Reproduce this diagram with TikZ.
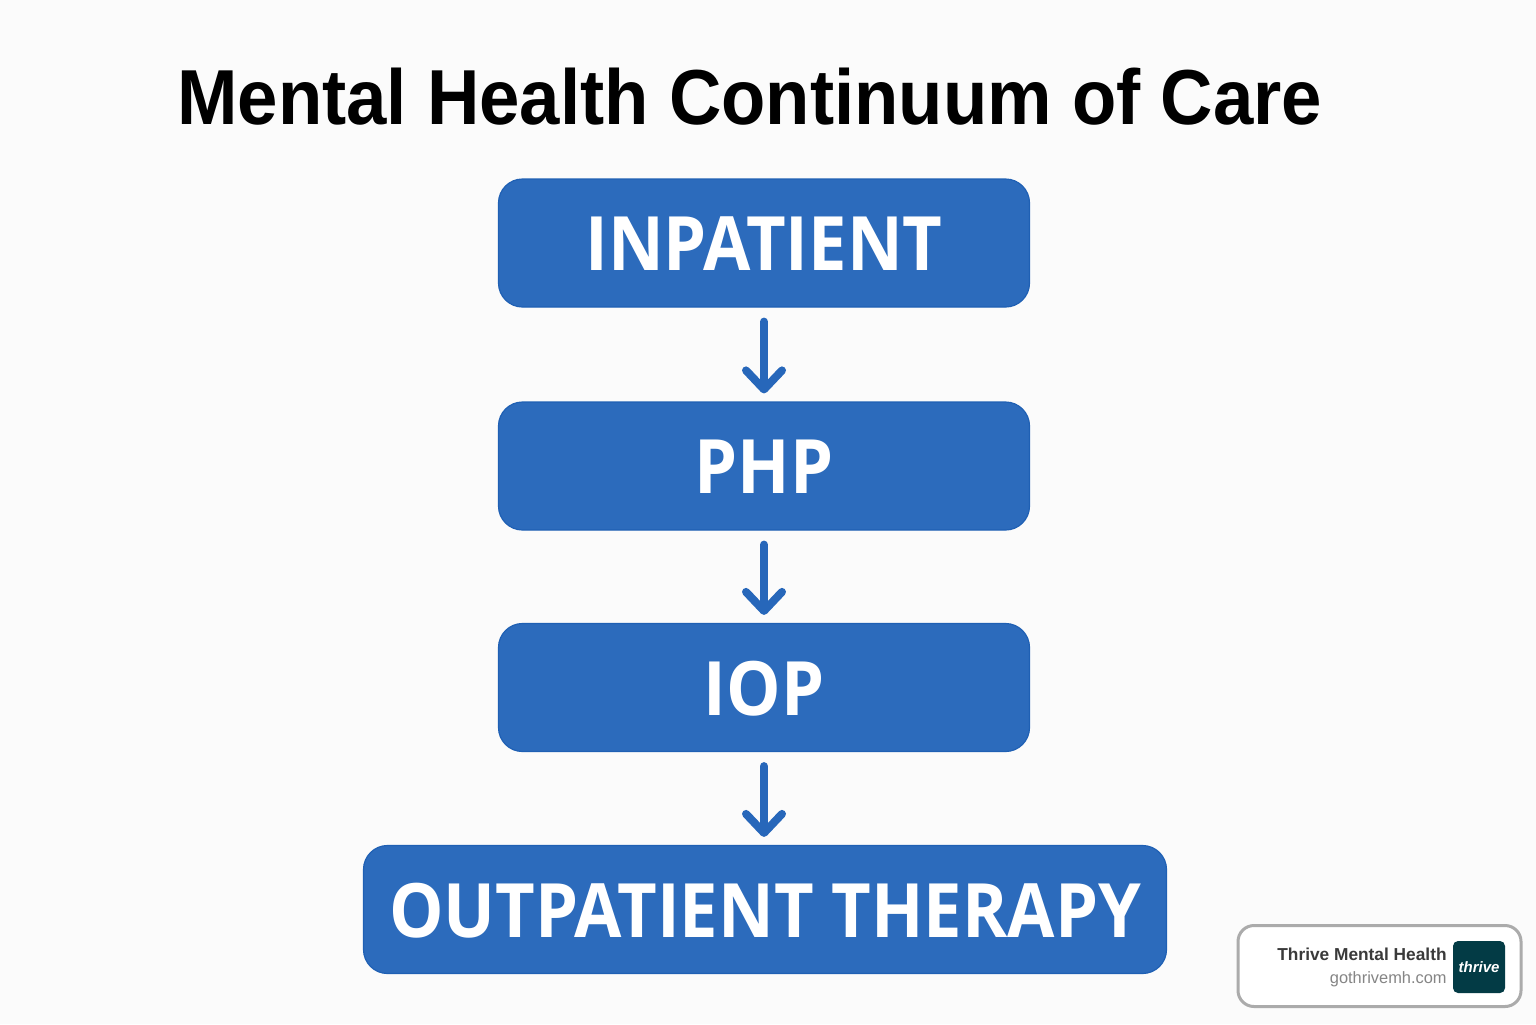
\documentclass[tikz,border=0pt]{standalone}
\usepackage{fontspec}
\setmainfont{Liberation Sans}
\newfontfamily\titlefont[FakeStretch=0.93]{Liberation Sans}
\newfontfamily\boxfont[FakeStretch=0.915]{Open Sans}
\usetikzlibrary{arrows.meta,positioning}
\definecolor{pagebg}{HTML}{FBFBFB}
\definecolor{boxblue}{HTML}{2C6BBC}
\definecolor{boxedge}{HTML}{1F60B4}
\definecolor{arrowblue}{HTML}{2767BA}
\definecolor{badgeedge}{HTML}{ABABAB}
\definecolor{logoteal}{HTML}{033B45}
\definecolor{darktext}{HTML}{3A3A3A}
\definecolor{greytext}{HTML}{858585}
\tikzset{
  x=0.5pt,y=-0.5pt,
  stagebox/.style={draw=boxedge,fill=boxblue,line width=0.6pt,rounded corners=12pt,
    text=white,inner sep=0pt,minimum height=64pt,
    font=\boxfont\fontsize{37.5}{40}\selectfont\bfseries,
    text height=27.5pt,text depth=0pt},
  flowarrow/.style={draw=arrowblue,line width=4pt,line cap=round,
    -{Straight Barb[length=9.5pt,width=18pt,round]}},
}
\begin{document}
\begin{tikzpicture}
\useasboundingbox (0,0) rectangle (1536,1024);
\fill[pagebg] (0,0) rectangle (1536,1024);
\node[font=\titlefont\fontsize{39}{42}\selectfont\bfseries,text=black,inner sep=0pt,anchor=base west] (title) at (177,124) {Mental Health Continuum of Care};
\node[stagebox,minimum width=265.5pt] (inpatient) at (764,243) {INPATIENT};
\node[stagebox,minimum width=265.5pt] (php) at (764,466) {PHP};
\node[stagebox,minimum width=265.5pt] (iop) at (764,687.5) {IOP};
\node[stagebox,minimum width=401.5pt] (outpatient) at (765,909.5) {OUTPATIENT THERAPY};
\draw[flowarrow,shorten <=7pt,shorten >=4pt] (inpatient) -- (php);
\draw[flowarrow,shorten <=7pt,shorten >=4pt] (php) -- (iop);
\draw[flowarrow,shorten <=7pt,shorten >=4pt] (iop) -- (iop|-outpatient.north);
\node[draw=badgeedge,fill=white,line width=1.5pt,rounded corners=8pt,minimum width=141.5pt,minimum height=40.5pt,inner sep=0pt] (badge) at (1379.5,966) {};
\node[fill=logoteal,rounded corners=2.5pt,minimum size=26pt,inner sep=0pt,text=white,font=\fontsize{7.5}{8}\selectfont\bfseries\itshape] (logo) at (1479,967) {thrive};
\node[anchor=base east,inner sep=0pt,text=darktext,font=\fontsize{8.65}{10}\selectfont\bfseries] (brand) at (1447,960) {Thrive Mental Health};
\node[anchor=base east,inner sep=0pt,text=greytext,font=\fontsize{8.2}{10}\selectfont] (site) at (1447,983) {gothrivemh.com};
\end{tikzpicture}
\end{document}
